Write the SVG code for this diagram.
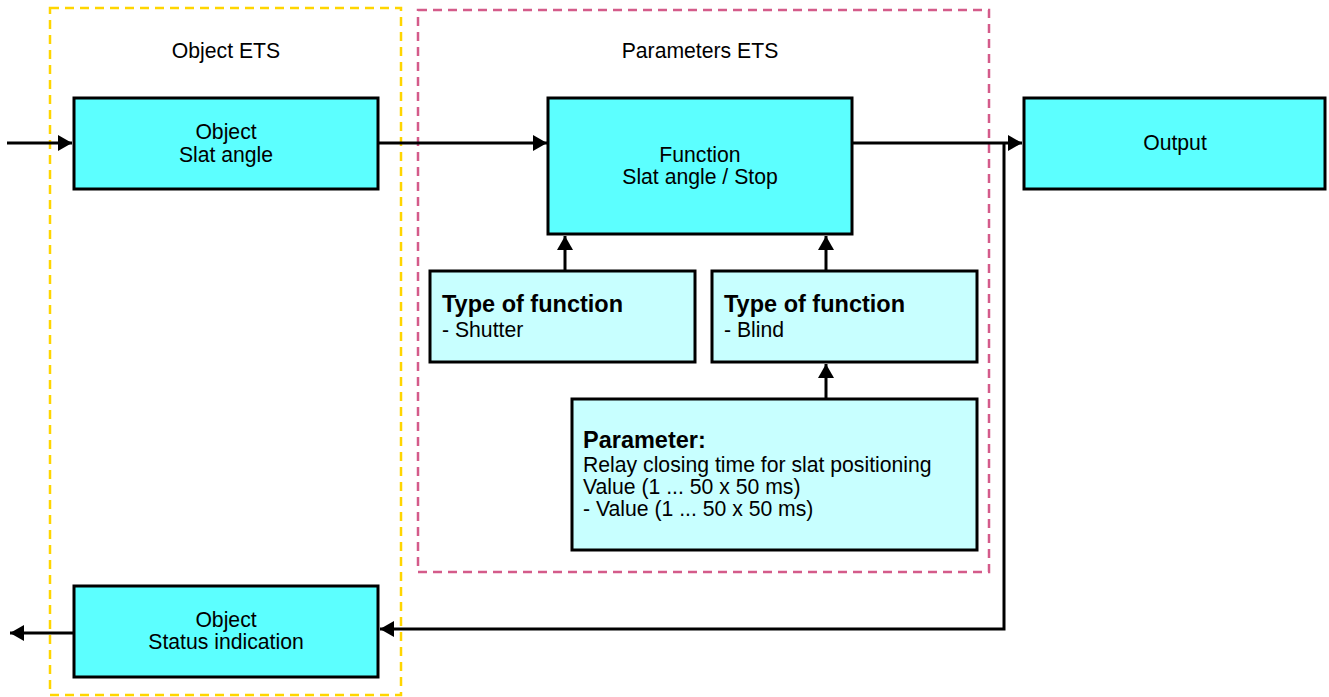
<svg xmlns="http://www.w3.org/2000/svg" width="1329" height="697" viewBox="0 0 1329 697">
<defs>
<style>
.t{font-family:"Liberation Sans",Arial,sans-serif;font-size:21.2px;fill:#000}
.b{font-family:"Liberation Sans",Arial,sans-serif;font-size:23.5px;font-weight:bold;fill:#000}
.m{text-anchor:middle}
.n1{fill:#5cffff;stroke:#000;stroke-width:3}
.n2{fill:#c8ffff;stroke:#000;stroke-width:3}
.c{fill:none;stroke:#000;stroke-width:3}
</style>
<marker id="ah" markerWidth="14" markerHeight="16" refX="14" refY="8" orient="auto" markerUnits="userSpaceOnUse">
<path d="M0,0 L14,8 L0,16 Z" fill="#000"/>
</marker>
</defs>
<rect width="1329" height="697" fill="#fff"/>
<g id="group-object-ets">
<rect x="50" y="8" width="351" height="687" fill="none" stroke="#ffd500" stroke-width="2.5" stroke-dasharray="9,6"/>
<text class="t m" x="226" y="58">Object ETS</text>
</g>
<g id="group-parameters-ets">
<rect x="418" y="10" width="571" height="562" fill="none" stroke="#d45b8a" stroke-width="2.5" stroke-dasharray="9,6"/>
<text class="t m" x="700" y="58">Parameters ETS</text>
</g>
<g id="connectors">
<line class="c" x1="7" y1="143" x2="72" y2="143" marker-end="url(#ah)"/>
<line class="c" x1="378" y1="143" x2="547" y2="143" marker-end="url(#ah)"/>
<line class="c" x1="852" y1="143" x2="1022" y2="143" marker-end="url(#ah)"/>
<polyline class="c" points="1004,143 1004,629 380,629" marker-end="url(#ah)"/>
<line class="c" x1="74" y1="633" x2="10" y2="633" marker-end="url(#ah)"/>
<line class="c" x1="565" y1="271" x2="565" y2="236" marker-end="url(#ah)"/>
<line class="c" x1="826" y1="271" x2="826" y2="236" marker-end="url(#ah)"/>
<line class="c" x1="826" y1="399" x2="826" y2="364" marker-end="url(#ah)"/>
</g>
<g id="node-object-slat-angle">
<rect class="n1" x="74" y="98" width="304" height="91"/>
<text class="t m" x="226" y="139">Object</text>
<text class="t m" x="226" y="162">Slat angle</text>
</g>
<g id="node-function">
<rect class="n1" x="548" y="98" width="304" height="136"/>
<text class="t m" x="700" y="162">Function</text>
<text class="t m" x="700" y="184">Slat angle / Stop</text>
</g>
<g id="node-output">
<rect class="n1" x="1024" y="98" width="301" height="91"/>
<text class="t m" x="1175" y="150">Output</text>
</g>
<g id="node-type-shutter">
<rect class="n2" x="430" y="271" width="265" height="91"/>
<text class="b" x="442" y="312">Type of function</text>
<text class="t" x="442" y="337">- Shutter</text>
</g>
<g id="node-type-blind">
<rect class="n2" x="712" y="271" width="265" height="91"/>
<text class="b" x="724" y="312">Type of function</text>
<text class="t" x="724" y="337">- Blind</text>
</g>
<g id="node-parameter">
<rect class="n2" x="572" y="399" width="405" height="151"/>
<text class="b" x="583" y="448">Parameter:</text>
<text class="t" x="583" y="472">Relay closing time for slat positioning</text>
<text class="t" x="583" y="494">Value (1 ... 50 x 50 ms)</text>
<text class="t" x="583" y="516">- Value (1 ... 50 x 50 ms)</text>
</g>
<g id="node-status-indication">
<rect class="n1" x="74" y="586" width="304" height="91"/>
<text class="t m" x="226" y="627">Object</text>
<text class="t m" x="226" y="649">Status indication</text>
</g>
</svg>
